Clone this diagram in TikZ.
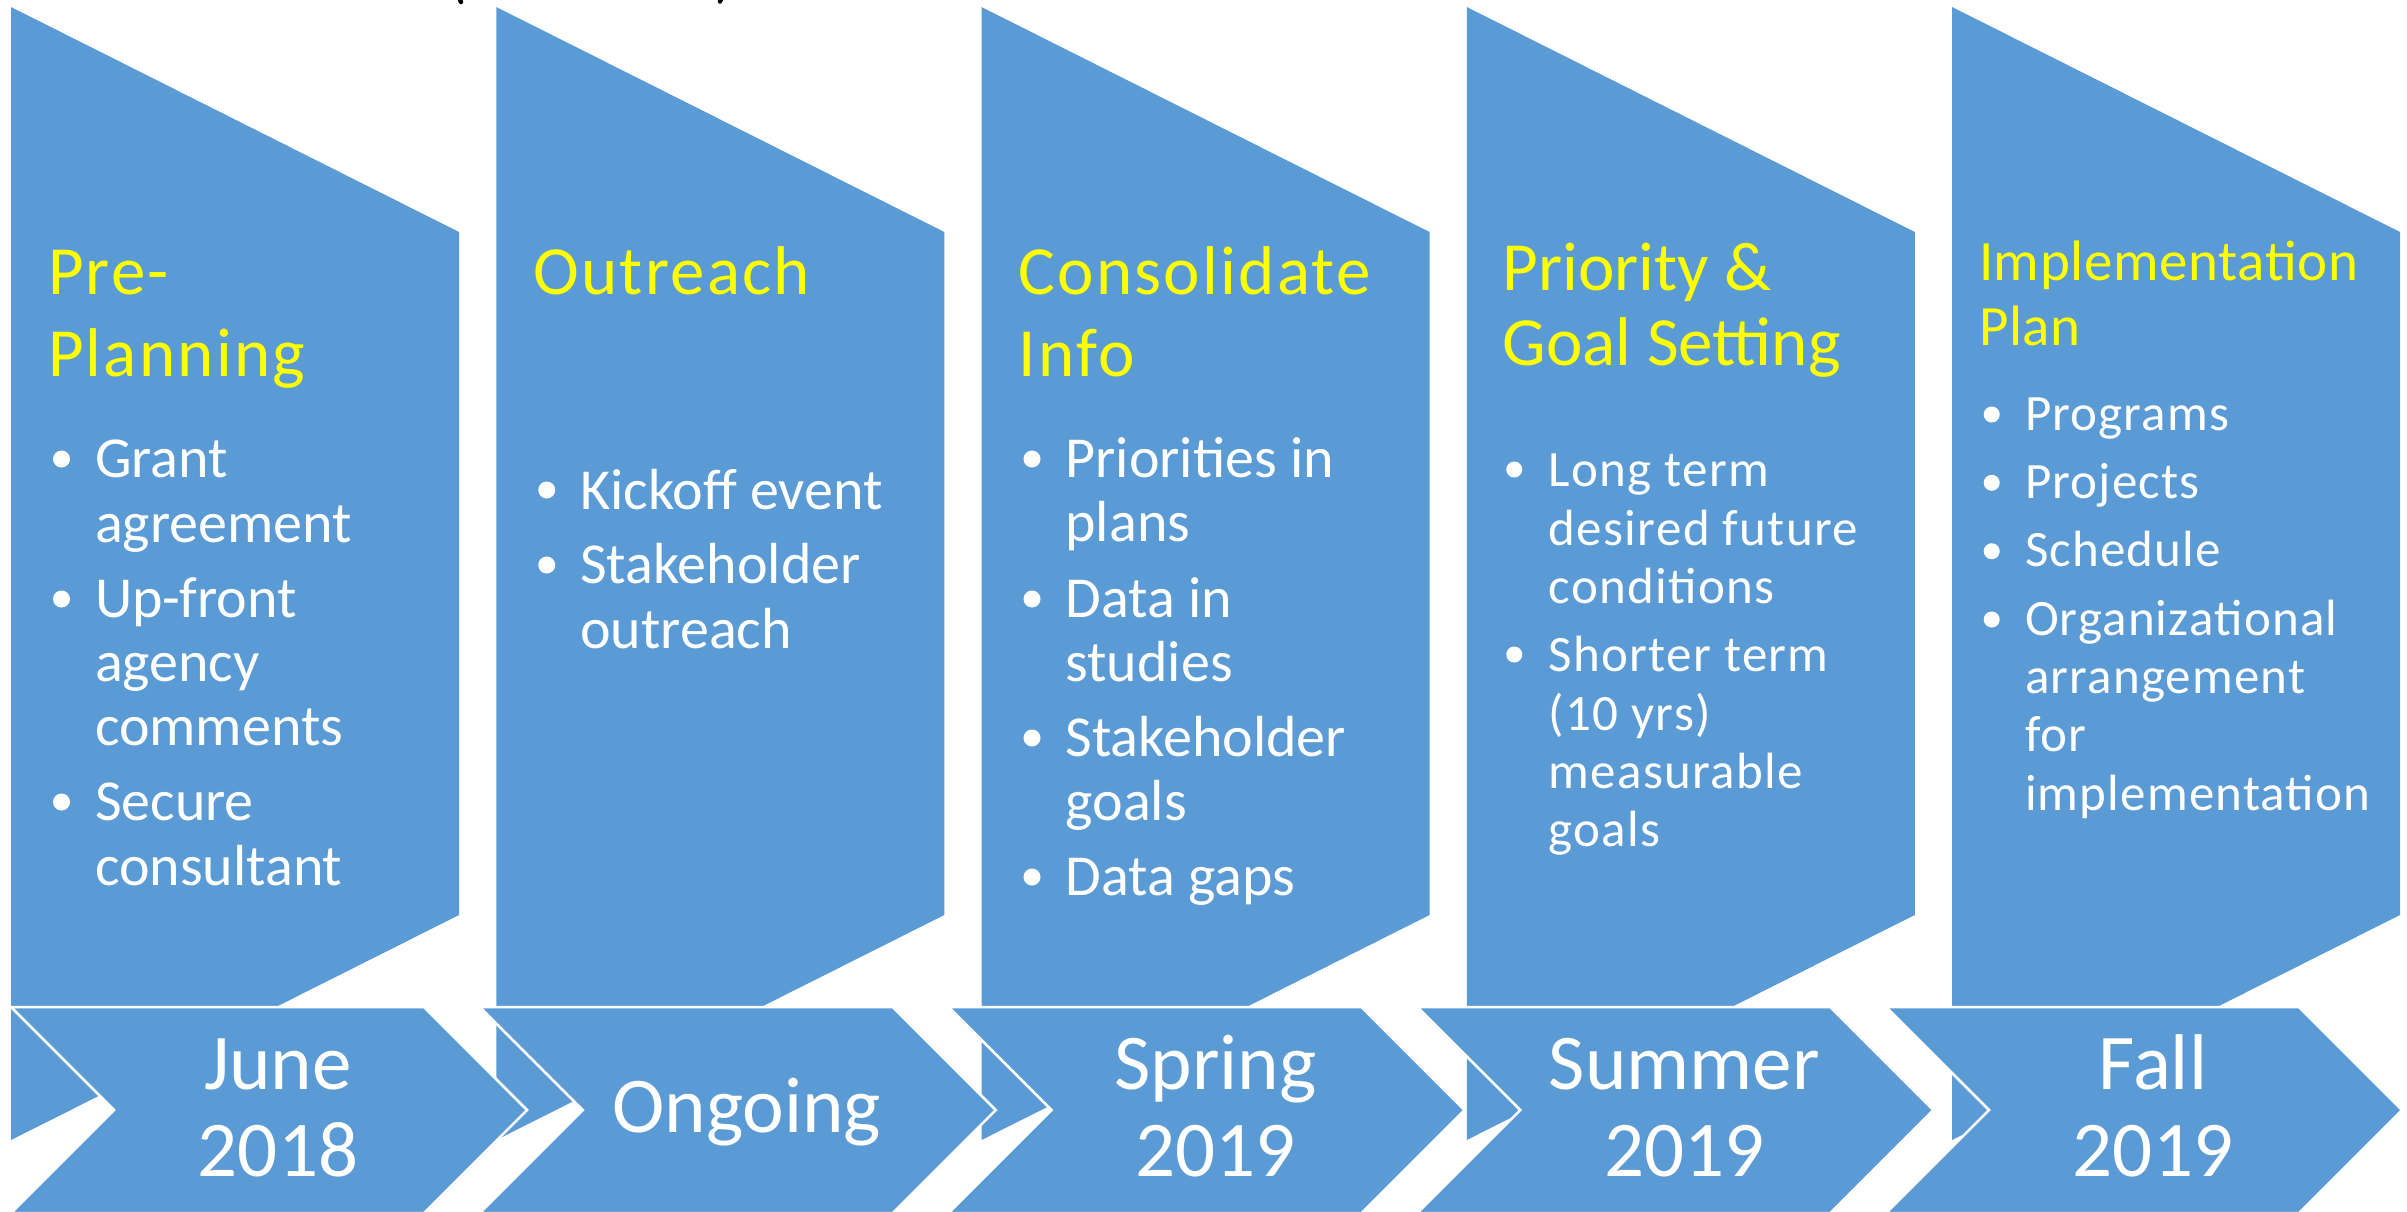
\documentclass[tikz,border=0pt]{standalone}
\usepackage{fontspec}
\setmainfont{Carlito}
\newfontfamily\ttlfont{Carlito}[LetterSpace=3.3]
\newfontfamily\ttlsfont{Carlito}[LetterSpace=1.1]
\newfontfamily\itmffont{Carlito}[LetterSpace=2.6]
\newfontfamily\itmgfont{Carlito}[LetterSpace=2.3]
\definecolor{accent}{HTML}{5B9BD5}
\definecolor{ttlyellow}{HTML}{FFFF00}
\tikzset{
  trap/.style={fill=accent, draw=none},
  chev/.style={fill=accent, draw=white, line width=2.5pt, line join=miter},
  ttl/.style={anchor=base west, inner sep=0pt, outer sep=0pt, text=ttlyellow, font=\ttlfont\fontsize{69}{82}\selectfont},
  ttln/.style={anchor=base west, inner sep=0pt, outer sep=0pt, text=ttlyellow, font=\fontsize{69}{82}\selectfont},
  ttls/.style={anchor=base west, inner sep=0pt, outer sep=0pt, text=ttlyellow, font=\ttlsfont\fontsize{57}{64}\selectfont},
  itm/.style={anchor=base west, inner sep=0pt, outer sep=0pt, text=white, font=\fontsize{58}{65}\selectfont},
  itmf/.style={anchor=base west, inner sep=0pt, outer sep=0pt, text=white, font=\itmffont\fontsize{51}{58}\selectfont},
  itmg/.style={anchor=base west, inner sep=0pt, outer sep=0pt, text=white, font=\itmgfont\fontsize{51}{58}\selectfont},
  dtxt/.style={anchor=base, inner sep=0pt, outer sep=0pt, text=white, font=\fontsize{79}{87}\selectfont},
  bdot/.style={fill=white, draw=none},
  topfrag/.style={line width=4.5pt, line cap=round, draw=black}
}
\begin{document}
\begin{tikzpicture}[x=1pt,y=-1pt]
\useasboundingbox (0,0) rectangle (2407,1211);
\fill[white] (0,0) rectangle (2407,1211);

% fragments of cut-off text at the top
\draw[topfrag] (459,-3) -- (461,2);
\draw[topfrag] (722,-3) -- (720,1.5);

% trapezoids
\foreach \L in {11,496.25,981.5,1466.75,1952}{
  \fill[trap] (\L,7) -- (\L+448,232) -- (\L+448,915) -- (\L,1140) -- cycle;
}
% chevrons
\foreach \C in {11,479.75,948.5,1417.25,1886}{
  \filldraw[chev] (\C,1007) -- (\C+413,1007) -- (\C+516,1110) -- (\C+413,1213) -- (\C,1213) -- (\C+103,1110) -- cycle;
}

% column 1
\node[ttl] (t1a) at (48,294) {Pre-};
\node[ttl] (t1b) at (48,376) {Planning};
\fill[bdot] (61.5,459) circle (8.5);
\node[itm] (c1a) at (95,477) {Grant};
\node[itm] (c1b) at (95,542) {agreement};
\fill[bdot] (61.5,599) circle (8.5);
\node[itm] (c1c) at (95,617) {Up-front};
\node[itm] (c1d) at (95,681) {agency};
\node[itm] (c1e) at (95,745) {comments};
\fill[bdot] (61.5,802) circle (8.5);
\node[itm] (c1f) at (95,820) {Secure};
\node[itm] (c1g) at (95,885) {consultant};

% column 2
\node[ttl] (t2a) at (533.25,294) {Outreach};
\fill[bdot] (546.75,490) circle (8.5);
\node[itm] (c2a) at (580.25,509) {Kickoff event};
\fill[bdot] (546.75,565) circle (8.5);
\node[itm] (c2b) at (580.25,583.5) {Stakeholder};
\node[itm] (c2c) at (580.25,648.5) {outreach};

% column 3
\node[ttl] (t3a) at (1018.5,294) {Consolidate};
\node[ttl] (t3b) at (1018.5,376) {Info};
\fill[bdot] (1032,459) circle (8.5);
\node[itm] (c3a) at (1065.5,477) {Priorities in};
\node[itm] (c3b) at (1065.5,541) {plans};
\fill[bdot] (1032,599) circle (8.5);
\node[itm] (c3c) at (1065.5,617) {Data in};
\node[itm] (c3d) at (1065.5,681) {studies};
\fill[bdot] (1032,738) circle (8.5);
\node[itm] (c3e) at (1065.5,756) {Stakeholder};
\node[itm] (c3f) at (1065.5,820) {goals};
\fill[bdot] (1032,877) circle (8.5);
\node[itm] (c3g) at (1065.5,895) {Data gaps};

% column 4
\node[ttln] (t4a) at (1502.75,290) {Priority \&};
\node[ttln] (t4b) at (1502.75,365) {Goal Setting};
\fill[bdot] (1514.25,469.5) circle (8);
\node[itmf] (c4a) at (1548.75,486.7) {Long term};
\node[itmf] (c4b) at (1548.75,545) {desired future};
\node[itmf] (c4c) at (1548.75,603.3) {conditions};
\fill[bdot] (1514.25,654.5) circle (8);
\node[itmf] (c4d) at (1548.75,671.7) {Shorter term};
\node[itmf] (c4e) at (1548.75,730) {(10 yrs)};
\node[itmf] (c4f) at (1548.75,788.3) {measurable};
\node[itmf] (c4g) at (1548.75,846.7) {goals};

% column 5
\node[ttls] (t5a) at (1979,280.7) {Implementation};
\node[ttls] (t5b) at (1979,345) {Plan};
\fill[bdot] (1991.7,414.5) circle (8);
\node[itmg] (c5a) at (2025,430) {Programs};
\fill[bdot] (1991.7,482.8) circle (8);
\node[itmg] (c5b) at (2025,498.3) {Projects};
\fill[bdot] (1991.7,551.2) circle (8);
\node[itmg] (c5c) at (2025,566.7) {Schedule};
\fill[bdot] (1991.7,619.5) circle (8);
\node[itmg] (c5d) at (2025,635) {Organizational};
\node[itmg] (c5e) at (2025,693.3) {arrangement};
\node[itmg] (c5f) at (2025,751.7) {for};
\node[itmg] (c5g) at (2025,810) {implementation};

% chevron dates
\node[dtxt] (d1a) at (278,1089.3) {June};
\node[dtxt] (d1b) at (278,1176.7) {2018};
\node[dtxt] (d2a) at (746.75,1132.7) {Ongoing};
\node[dtxt] (d3a) at (1215.5,1089.3) {Spring};
\node[dtxt] (d3b) at (1215.5,1176.7) {2019};
\node[dtxt] (d4a) at (1684.25,1089.3) {Summer};
\node[dtxt] (d4b) at (1684.25,1176.7) {2019};
\node[dtxt] (d5a) at (2153,1089.3) {Fall};
\node[dtxt] (d5b) at (2153,1176.7) {2019};
\end{tikzpicture}
\end{document}
